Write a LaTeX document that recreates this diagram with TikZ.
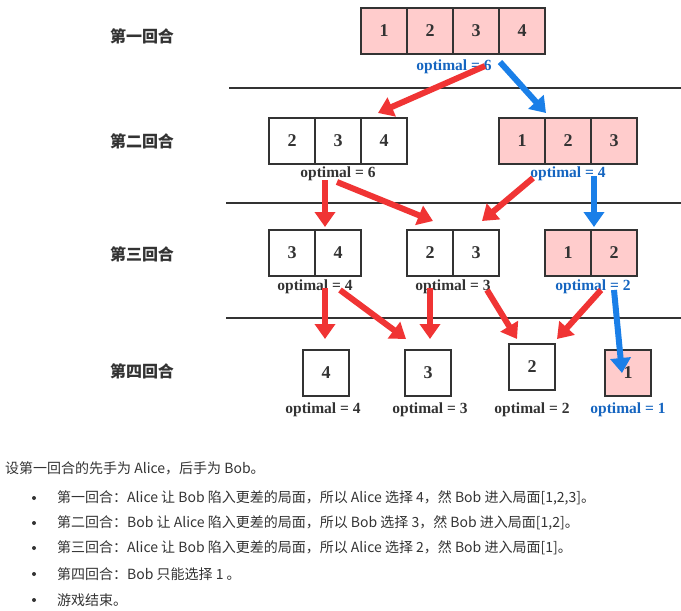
\documentclass[tikz,border=0pt]{standalone}
\usepackage{fontspec}
\setmainfont{Liberation Serif}
\newfontfamily\cjk{Noto Sans CJK SC}
\usetikzlibrary{arrows.meta}
\definecolor{pinkc}{HTML}{FFCCCC}
\definecolor{redc}{HTML}{F03434}
\definecolor{bluec}{HTML}{1A7FE8}
\definecolor{dark}{HTML}{333333}
\definecolor{optblue}{HTML}{1565C0}
\begin{document}
\begin{tikzpicture}[x=1pt,y=-1pt,
  cell/.style={draw=dark,line width=1.5pt,minimum width=46pt,minimum height=46pt,inner sep=0pt,font=\fontsize{18}{20}\selectfont\bfseries,text=dark},
  pk/.style={cell,fill=pinkc},
  wt/.style={cell,fill=white},
  opt/.style={font=\fontsize{15.5}{17}\selectfont\bfseries,text=dark},
  optb/.style={opt,text=optblue},
  rnd/.style={font=\cjk\fontsize{16}{18}\selectfont\bfseries,text=dark},
  sep/.style={draw=dark,line width=1.5pt},
  ra/.style={draw=redc,line width=6pt,-{Triangle[length=15pt,width=20pt]}},
  ba/.style={ra,draw=bluec},
  txt/.style={font=\cjk\fontsize{14}{16}\selectfont,text=dark,anchor=west,inner sep=0pt}]
\useasboundingbox (0,0) rectangle (681,611);
% round labels
\node[rnd] (r1) at (142,36) {第一回合};
\node[rnd] (r2) at (142,141) {第二回合};
\node[rnd] (r3) at (142,254) {第三回合};
\node[rnd] (r4) at (142,371) {第四回合};
% separators
\draw[sep] (229,88) -- (681,88);
\draw[sep] (226,203) -- (681,203);
\draw[sep] (226,318) -- (681,318);
% round 1
\node[pk] (a1) at (384,31) {1};
\node[pk] (a2) at (430,31) {2};
\node[pk] (a3) at (476,31) {3};
\node[pk] (a4) at (522,31) {4};
\node[optb] (oa) at (454,67) {optimal = 6};
% round 2
\node[wt] (b1) at (292,141) {2};
\node[wt] (b2) at (338,141) {3};
\node[wt] (b3) at (384,141) {4};
\node[opt] (ob) at (338,174) {optimal = 6};
\node[pk] (c1) at (522,141) {1};
\node[pk] (c2) at (568,141) {2};
\node[pk] (c3) at (614,141) {3};
\node[optb] (oc) at (568,174) {optimal = 4};
% round 3
\node[wt] (d1) at (292,253) {3};
\node[wt] (d2) at (338,253) {4};
\node[opt] (od) at (315,287) {optimal = 4};
\node[wt] (e1) at (430,253) {2};
\node[wt] (e2) at (476,253) {3};
\node[opt] (oe) at (453,287) {optimal = 3};
\node[pk] (f1) at (568,253) {1};
\node[pk] (f2) at (614,253) {2};
\node[optb] (of) at (593,287) {optimal = 2};
% round 4
\node[wt] (g) at (326,373) {4};
\node[opt] (og) at (323,410) {optimal = 4};
\node[wt] (h) at (428,373) {3};
\node[opt] (oh) at (430,410) {optimal = 3};
\node[wt] (i) at (532,367) {2};
\node[opt] (oi) at (532,410) {optimal = 2};
\node[pk] (j) at (628,373) {1};
\node[optb] (oj) at (628,410) {optimal = 1};
% arrows
\coordinate (p1) at (485,66); \coordinate (q1) at (378,113);
\coordinate (p2) at (500,62); \coordinate (q2) at (546,113);
\draw[ra] (p1) -- (q1);
\draw[ba] (p2) -- (q2);
\coordinate (p3) at (325,180); \coordinate (q3) at (325,227);
\coordinate (p4) at (337,182); \coordinate (q4) at (433,221);
\coordinate (p5) at (533,178); \coordinate (q5) at (482,221);
\coordinate (p6) at (594,176); \coordinate (q6) at (594,227);
\draw[ra] (p3) -- (q3);
\draw[ra] (p4) -- (q4);
\draw[ra] (p5) -- (q5);
\draw[ba] (p6) -- (q6);
\coordinate (p7) at (325,288); \coordinate (q7) at (325,339);
\coordinate (p8) at (340,290); \coordinate (q8) at (406,339);
\coordinate (p9) at (430,288); \coordinate (q9) at (430,339);
\coordinate (p10) at (487,290); \coordinate (q10) at (517,339);
\coordinate (p11) at (601,290); \coordinate (q11) at (557,339);
\coordinate (p12) at (614,290); \coordinate (q12) at (622,373);
\draw[ra] (p7) -- (q7);
\draw[ra] (p8) -- (q8);
\draw[ra] (p9) -- (q9);
\draw[ra] (p10) -- (q10);
\draw[ra] (p11) -- (q11);
\draw[ba] (p12) -- (q12);
% text
\node[txt] (t0) at (5,468) {设第一回合的先手为 Alice，后手为 Bob。};
\foreach \y/\s [count=\k] in {498/{第一回合：Alice 让 Bob 陷入更差的局面，所以 Alice 选择 4，然 Bob 进入局面[1,2,3]。},
  523/{第二回合：Bob 让 Alice 陷入更差的局面，所以 Bob 选择 3，然 Bob 进入局面[1,2]。},
  548/{第三回合：Alice 让 Bob 陷入更差的局面，所以 Alice 选择 2，然 Bob 进入局面[1]。},
  574/{第四回合：Bob 只能选择 1 。},
  600/{游戏结束。}}{
  \fill[dark] (34,\y) circle (2pt);
  \node[txt] (t\k) at (57,\y) {\s};
}
\end{tikzpicture}
\end{document}
